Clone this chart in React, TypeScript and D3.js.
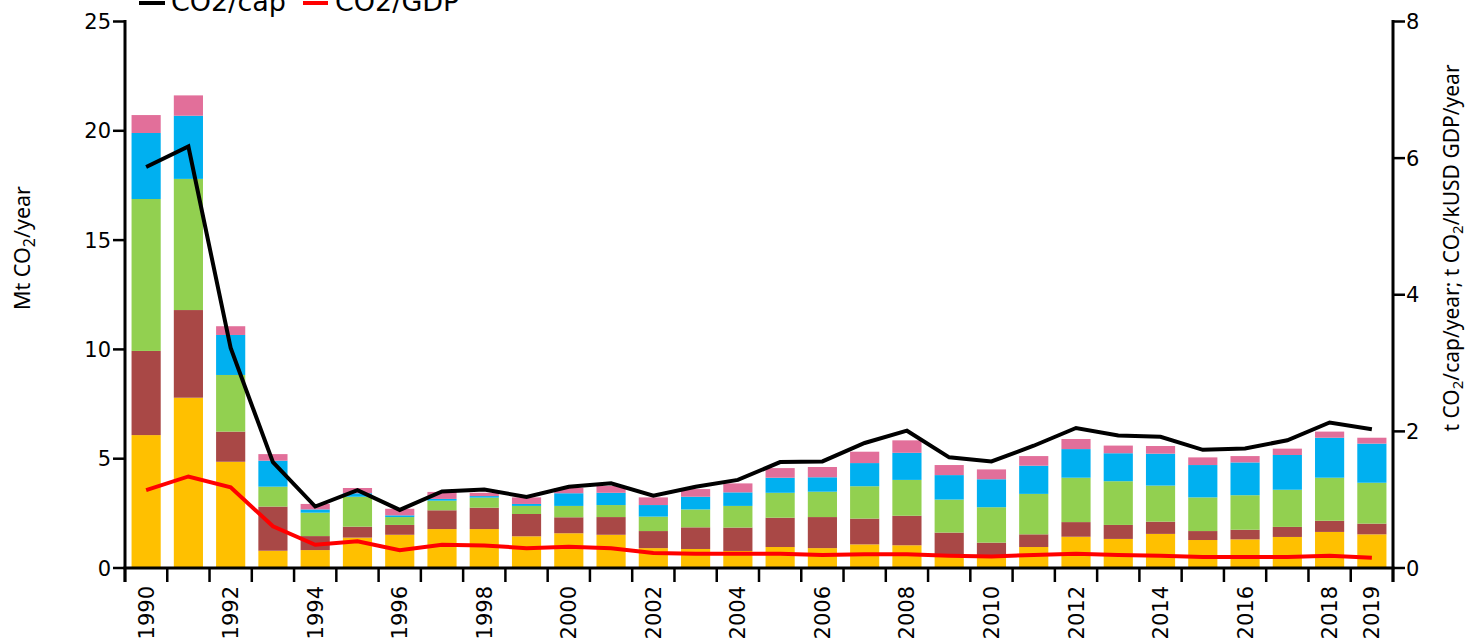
import React from "react";
import * as d3 from "d3";

const years = d3.range(1990, 2020);
const yearLabels = [1990, 1992, 1994, 1996, 1998, 2000, 2002, 2004, 2006, 2008, 2010, 2012, 2014, 2016, 2018, 2019];

const yellow = [6.08, 7.79, 4.86, 0.79, 0.82, 1.39, 1.52, 1.78, 1.78, 1.45, 1.59, 1.52, 0.91, 0.87, 0.78, 0.96, 0.91, 1.08, 1.04, 0.64, 0.52, 0.96, 1.43, 1.33, 1.56, 1.28, 1.31, 1.42, 1.65, 1.54];
const brown = [3.85, 4.01, 1.38, 2.02, 0.64, 0.50, 0.45, 0.86, 0.98, 1.02, 0.73, 0.81, 0.78, 0.99, 1.07, 1.34, 1.42, 1.18, 1.35, 0.98, 0.64, 0.58, 0.67, 0.64, 0.56, 0.41, 0.44, 0.46, 0.51, 0.49];
const green = [6.95, 6.00, 2.59, 0.91, 1.07, 1.37, 0.36, 0.44, 0.46, 0.37, 0.52, 0.55, 0.66, 0.82, 0.99, 1.14, 1.16, 1.48, 1.64, 1.51, 1.62, 1.85, 2.03, 2.00, 1.65, 1.54, 1.58, 1.70, 1.97, 1.87];
const blue = [3.02, 2.89, 1.83, 1.19, 0.15, 0.16, 0.08, 0.08, 0.07, 0.09, 0.58, 0.56, 0.53, 0.58, 0.62, 0.69, 0.66, 1.06, 1.24, 1.12, 1.28, 1.29, 1.31, 1.28, 1.46, 1.48, 1.50, 1.59, 1.83, 1.79];
const pink = [0.82, 0.93, 0.40, 0.30, 0.25, 0.24, 0.30, 0.32, 0.15, 0.30, 0.24, 0.31, 0.35, 0.35, 0.41, 0.44, 0.47, 0.52, 0.57, 0.46, 0.45, 0.44, 0.46, 0.35, 0.35, 0.35, 0.29, 0.29, 0.28, 0.27];

const co2cap = [5.87, 6.17, 3.22, 1.55, 0.90, 1.14, 0.85, 1.12, 1.15, 1.04, 1.19, 1.24, 1.06, 1.19, 1.29, 1.55, 1.56, 1.83, 2.01, 1.62, 1.56, 1.79, 2.05, 1.94, 1.92, 1.73, 1.75, 1.87, 2.13, 2.03];
const co2gdp = [1.14, 1.34, 1.18, 0.61, 0.34, 0.39, 0.26, 0.34, 0.33, 0.29, 0.31, 0.29, 0.22, 0.21, 0.21, 0.21, 0.19, 0.20, 0.20, 0.18, 0.17, 0.19, 0.21, 0.19, 0.18, 0.16, 0.16, 0.16, 0.18, 0.15];

const leftTicks = [0, 5, 10, 15, 20, 25];
const rightTicks = [0, 2, 4, 6, 8];

const seriesKeys = ["yellow", "brown", "green", "blue", "pink"];
const seriesColors = ["#FFC000", "#A94846", "#92D050", "#00B0F0", "#E26F9A"];
const seriesData: Record<string, number[]> = { yellow, brown, green, blue, pink };

const W = 1467, H = 644;
const X0 = 125, X1 = 1393, Y0 = 568, Y1 = 21.5;

export default function App() {
  const x = d3.scaleBand<number>().domain(years).range([X0, X1]).paddingInner(0.31).paddingOuter(0.155);
  const yL = d3.scaleLinear().domain([0, 25]).range([Y0, Y1]);
  const yR = d3.scaleLinear().domain([0, 8]).range([Y0, Y1]);
  const step = x.step();

  const table = years.map((yr, i) => {
    const o: any = { year: yr };
    seriesKeys.forEach((k) => (o[k] = seriesData[k][i]));
    return o;
  });
  const stacked = d3.stack<any>().keys(seriesKeys)(table);

  const cx = (yr: number) => (x(yr) as number) + x.bandwidth() / 2;
  const line = d3.line<number>().x((_, i) => cx(years[i])).y((v) => yR(v));

  const tickFont = "'DejaVu Sans', sans-serif";
  const titleFont = "'Noto Sans', sans-serif";

  return (
    <svg width={W} height={H} style={{ position: "absolute", left: 0, top: 0, background: "#fff" }}>
      {stacked.map((s, si) => (
        <g key={si} fill={seriesColors[si]}>
          {s.map((d, i) => (
            <rect key={i} x={x(years[i])} width={x.bandwidth()} y={yL(d[1])} height={yL(d[0]) - yL(d[1])} />
          ))}
        </g>
      ))}
      <path d={line(co2cap) as string} fill="none" stroke="#000" strokeWidth={4} />
      <path d={line(co2gdp) as string} fill="none" stroke="#FF0000" strokeWidth={4} />

      {/* x axis */}
      <line x1={X0 - 1.5} x2={X1 + 1.5} y1={Y0} y2={Y0} stroke="#000" strokeWidth={3} />
      {d3.range(years.length + 1).map((i) => (
        <line key={i} x1={X0 + i * step} x2={X0 + i * step} y1={Y0} y2={Y0 + 14} stroke="#000" strokeWidth={2.5} />
      ))}
      {yearLabels.map((yr) => (
        <text key={yr} transform={`translate(${cx(yr) + 7.5},${Y0 + 18}) rotate(-90)`} textAnchor="end"
          fontFamily={tickFont} fontSize={21} fill="#000">{yr}</text>
      ))}

      {/* left axis */}
      <line x1={X0} x2={X0} y1={Y1 - 1.5} y2={Y0 + 14} stroke="#000" strokeWidth={3} />
      {leftTicks.map((t) => (
        <g key={t}>
          <line x1={X0 - 12} x2={X0} y1={yL(t)} y2={yL(t)} stroke="#000" strokeWidth={2.5} />
          <text x={X0 - 14} y={yL(t) + 7.5} textAnchor="end" fontFamily={tickFont} fontSize={21} fill="#000">{t}</text>
        </g>
      ))}
      <text transform={`translate(30,248) rotate(-90)`} textAnchor="middle" fontFamily={titleFont} fontSize={21.5} fill="#000">
        Mt CO<tspan fontSize={16} dy={5}>2</tspan><tspan dy={-5}>/year</tspan>
      </text>

      {/* right axis */}
      <line x1={X1} x2={X1} y1={Y1 - 1.5} y2={Y0 + 14} stroke="#000" strokeWidth={3} />
      {rightTicks.map((t) => (
        <g key={t}>
          <line x1={X1} x2={X1 + 12} y1={yR(t)} y2={yR(t)} stroke="#000" strokeWidth={2.5} />
          <text x={X1 + 13} y={yR(t) + 7.5} textAnchor="start" fontFamily={tickFont} fontSize={21} fill="#000">{t}</text>
        </g>
      ))}
      <text transform={`translate(1459,248) rotate(-90)`} textAnchor="middle" fontFamily={titleFont} fontSize={21} fill="#000">
        t CO<tspan fontSize={15} dy={4}>2</tspan><tspan dy={-4}>/cap/year; t CO</tspan><tspan fontSize={15} dy={4}>2</tspan><tspan dy={-4}>/kUSD GDP/year</tspan>
      </text>

      {/* legend */}
      <line x1={139} x2={165} y1={3} y2={3} stroke="#000" strokeWidth={4} />
      <text x={171} y={11} fontFamily={tickFont} fontSize={27} fill="#000">CO2/cap</text>
      <line x1={303} x2={328} y1={3} y2={3} stroke="#FF0000" strokeWidth={4} />
      <text x={335} y={11} fontFamily={tickFont} fontSize={27} fill="#000">CO2/GDP</text>
    </svg>
  );
}
